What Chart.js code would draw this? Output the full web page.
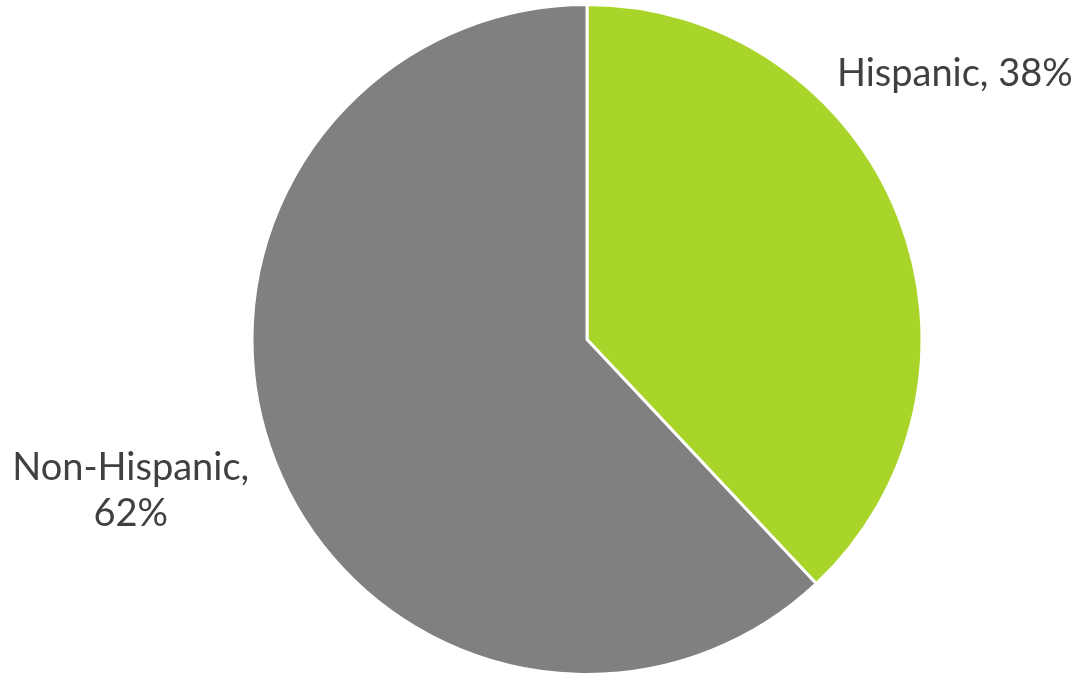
<!DOCTYPE html>
<html lang="en">
<head>
    <meta charset="UTF-8">
    <title>Hispanic share</title>
    <script src="https://cdn.jsdelivr.net/npm/chart.js"></script>
    <style>
        html, body { margin: 0; padding: 0; background: #fff; }
        #wrap { width: 1076px; height: 677px; }
    </style>
</head>
<body>
<div id="wrap">
    <canvas id="pie"></canvas>
</div>

<script>
    const categories = ['Hispanic', 'Non-Hispanic'];
    const values = [38, 62];
    const colors = ['#a9d52a', '#808080'];
    // label lines and their offset from the pie centre, in units of the radius
    const labelLines = [['Hispanic, 38%'], ['Non-Hispanic,', '62%']];
    const labelOffsets = [[1.098, -0.792], [-1.362, 0.45]];

    const sliceLabels = {
        id: 'sliceLabels',
        afterDatasetsDraw(chart) {
            const arc = chart.getDatasetMeta(0).data[0];
            const ctx = chart.ctx;
            ctx.save();
            ctx.font = '38px Lato';
            ctx.fillStyle = '#404040';
            ctx.textAlign = 'center';
            ctx.textBaseline = 'middle';
            labelLines.forEach((lines, i) => {
                const cx = arc.x + labelOffsets[i][0] * arc.outerRadius;
                const cy = arc.y + labelOffsets[i][1] * arc.outerRadius;
                const lh = 46;
                lines.forEach((t, j) => {
                    ctx.fillText(t, cx, cy + (j - (lines.length - 1) / 2) * lh);
                });
            });
            ctx.restore();
        }
    };

    new Chart(document.getElementById('pie'), {
        type: 'pie',
        data: {
            labels: categories,
            datasets: [{
                data: values,
                backgroundColor: colors,
                borderColor: '#ffffff',
                borderWidth: 3
            }]
        },
        options: {
            responsive: true,
            maintainAspectRatio: false,
            animation: false,
            layout: { padding: { left: 98, right: 0, top: 3, bottom: 1 } },
            plugins: {
                legend: { display: false },
                tooltip: { enabled: false }
            }
        },
        plugins: [sliceLabels]
    });
</script>
</body>
</html>
